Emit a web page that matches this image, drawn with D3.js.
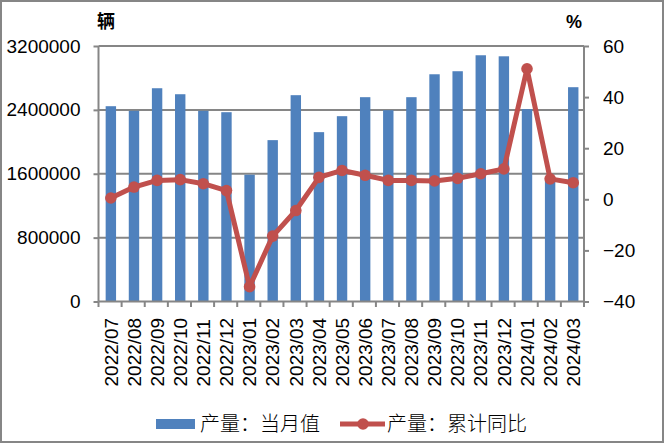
<!DOCTYPE html>
<html><head><meta charset="utf-8">
<script src="https://cdn.jsdelivr.net/npm/d3@7"></script>
<style>body{margin:0;background:#fff}svg{display:block}</style>
</head><body>
<svg id="c" width="666" height="444"></svg>
<script>
const categories = ["2022/07","2022/08","2022/09","2022/10","2022/11","2022/12","2023/01","2023/02","2023/03","2023/04","2023/05","2023/06","2023/07","2023/08","2023/09","2023/10","2023/11","2023/12","2024/01","2024/02","2024/03"];
const monthly = [2446000,2388000,2671000,2596000,2388000,2371000,1588000,2021000,2584000,2121000,2321000,2559000,2396000,2559000,2846000,2884000,3084000,3071000,2409000,1510000,2684000];
const cumYoY = [0.5,4.8,7.4,7.7,6.1,3.4,-34.2,-14.4,-4.4,8.6,11.3,9.4,7.4,7.4,7.2,8.2,10.0,11.9,51.1,8.0,6.5];
const leftTicks = [0,800000,1600000,2400000,3200000];
const rightTicks = [-40,-20,0,20,40,60];
const seriesNames = ["产量：当月值","产量：累计同比"];
const unitLeft = "辆", unitRight = "%";

const svg = d3.select("#c");
const L = 98.5, R = 584, T = 46, B = 301.5;
const gray = "#868686", blue = "#4F81BD", red = "#C0504D";
const numFont = "Liberation Sans, Arial, sans-serif";
const cjkFont = "Noto Sans CJK SC, sans-serif";

svg.append("rect").attr("x",1).attr("y",1).attr("width",662).attr("height",441)
  .attr("fill","#fff").attr("stroke",gray).attr("stroke-width",2);

const x = d3.scaleBand().domain(categories).range([L,R]).padding(0);
const yL = d3.scaleLinear().domain([0,3200000]).range([B,T]);
const yR = d3.scaleLinear().domain([-40,60]).range([B,T]);

// gridlines
svg.append("g").selectAll("line").data(leftTicks.filter(d=>d>0)).join("line")
  .attr("x1",L).attr("x2",R).attr("y1",d=>yL(d)).attr("y2",d=>yL(d))
  .attr("stroke",gray).attr("stroke-width",2);

// bars
const bw = x.step()*0.45;
svg.append("g").selectAll("rect").data(monthly).join("rect")
  .attr("x",(d,i)=>x(categories[i])+x.bandwidth()/2-bw/2+0.8)
  .attr("width",bw)
  .attr("y",d=>yL(d)).attr("height",d=>B-yL(d))
  .attr("fill",blue);

// axes
const axL = svg.append("g").attr("transform",`translate(${L},0)`)
  .call(d3.axisLeft(yL).tickValues(leftTicks).tickFormat(d3.format("d")).tickSize(5).tickPadding(13));
const axR = svg.append("g").attr("transform",`translate(${R},0)`)
  .call(d3.axisRight(yR).tickValues(rightTicks).tickSize(5).tickPadding(14));
const axB = svg.append("g").attr("transform",`translate(0,${B})`)
  .call(d3.axisBottom(x).tickSize(0).tickPadding(0));
[axL,axR,axB].forEach(a=>{
  a.select(".domain").attr("stroke",gray).attr("stroke-width",2);
  a.selectAll(".tick line").attr("stroke",gray).attr("stroke-width",2);
  a.selectAll("text").attr("font-family",numFont).attr("font-size",19).attr("fill","#000");
});
axL.select(".domain").attr("d",`M0,${T}V${B}`);
axL.selectAll(".tick line").attr("x1",-5).attr("x2",0);
axR.select(".domain").attr("d",`M0,${T}V${B}`);
axB.select(".domain").attr("d",`M${L},0H${R}`);
// bottom tick marks at band boundaries
svg.append("g").selectAll("line").data(d3.range(categories.length+1)).join("line")
  .attr("x1",i=>L+i*x.step()).attr("x2",i=>L+i*x.step())
  .attr("y1",B).attr("y2",B+5.5).attr("stroke",gray).attr("stroke-width",2);
axB.selectAll(".tick text")
  .attr("transform","translate(7.5,85) rotate(-90)")
  .attr("text-anchor","start").attr("dy",0).attr("y",0).attr("x",0);

// line
const line = d3.line().x((d,i)=>x(categories[i])+x.bandwidth()/2+0.8).y(d=>yR(d));
svg.append("path").datum(cumYoY).attr("d",line).attr("fill","none")
  .attr("stroke",red).attr("stroke-width",5).attr("stroke-linejoin","round");
svg.append("g").selectAll("circle").data(cumYoY).join("circle")
  .attr("cx",(d,i)=>x(categories[i])+x.bandwidth()/2+0.8).attr("cy",d=>yR(d))
  .attr("r",5.8).attr("fill",red);

// unit labels
svg.append("text").attr("x",97).attr("y",28).text(unitLeft)
  .attr("font-family",cjkFont).attr("font-size",18).attr("font-weight","bold");
svg.append("text").attr("x",566).attr("y",28).text(unitRight)
  .attr("font-family",numFont).attr("font-size",18).attr("font-weight","bold");

// legend
svg.append("rect").attr("x",156).attr("y",419).attr("width",39).attr("height",10).attr("fill",blue);
svg.append("text").attr("x",200).attr("y",431).text(seriesNames[0])
  .attr("font-family",cjkFont).attr("font-size",20).attr("font-weight",300);
svg.append("line").attr("x1",340).attr("x2",385).attr("y1",424).attr("y2",424)
  .attr("stroke",red).attr("stroke-width",5);
svg.append("circle").attr("cx",363).attr("cy",424).attr("r",5.8).attr("fill",red);
svg.append("text").attr("x",387).attr("y",431).text(seriesNames[1])
  .attr("font-family",cjkFont).attr("font-size",20).attr("font-weight",300);
</script>
</body></html>
